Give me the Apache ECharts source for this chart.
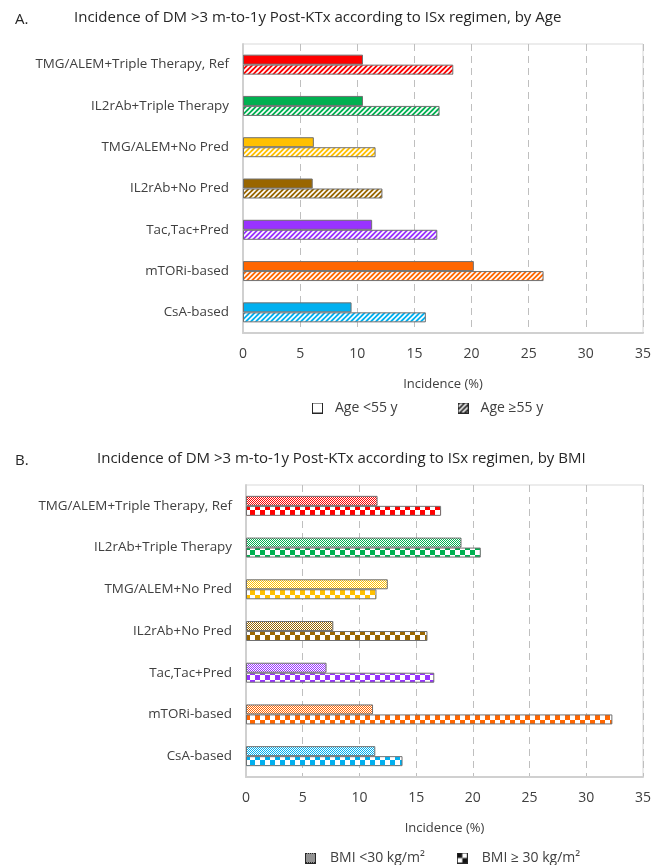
<!DOCTYPE html>
<html>
<head>
<meta charset="utf-8">
<script src="https://cdn.jsdelivr.net/npm/echarts@6/dist/echarts.min.js"></script>
<style>
  html, body { margin: 0; padding: 0; background: #fff; }
  #chart { width: 654px; height: 865px; }
</style>
</head>
<body>
<div id="chart"></div>
<script>
// categories, top to bottom
const categories = [
  'TMG/ALEM+Triple Therapy, Ref',
  'IL2rAb+Triple Therapy',
  'TMG/ALEM+No Pred',
  'IL2rAb+No Pred',
  'Tac,Tac+Pred',
  'mTORi-based',
  'CsA-based'
];
const catColors = ['#FF0000', '#00B050', '#FFC000', '#996600', '#9933FF', '#FF6600', '#00B0F0'];

// panel A: by age
const ageUnder55 = [10.5, 10.5, 6.2, 6.1, 11.3, 20.2, 9.5];
const ageOver55 = [18.4, 17.2, 11.6, 12.2, 17.0, 26.3, 16.0];
// panel B: by BMI
const bmiUnder30 = [11.6, 19.0, 12.5, 7.7, 7.1, 11.2, 11.4];
const bmiOver30 = [17.2, 20.7, 11.5, 16.0, 16.6, 32.3, 13.8];

const xTicks = [0, 35, 5]; // min, max, interval

const font = '"Open Sans", "Noto Sans", sans-serif';
const textColor = '#404040';

// 花纹 patterns
function makeCanvas(w, h) {
  const c = document.createElement('canvas');
  c.width = w;
  c.height = h;
  return c;
}
function hatch(color) {
  const s = 5;
  const c = makeCanvas(s, s);
  const ctx = c.getContext('2d');
  ctx.fillStyle = color;
  ctx.fillRect(0, 0, s, s);
  ctx.strokeStyle = '#fff';
  ctx.lineWidth = 1.6;
  ctx.beginPath();
  ctx.moveTo(0, s); ctx.lineTo(s, 0);
  ctx.moveTo(-1, 1); ctx.lineTo(1, -1);
  ctx.moveTo(s - 1, s + 1); ctx.lineTo(s + 1, s - 1);
  ctx.stroke();
  return c;
}
function fineChecker(color) {
  const c = makeCanvas(2, 2);
  const ctx = c.getContext('2d');
  ctx.fillStyle = '#fff';
  ctx.fillRect(0, 0, 2, 2);
  ctx.fillStyle = color;
  ctx.fillRect(0, 0, 1, 1);
  ctx.fillRect(1, 1, 1, 1);
  return c;
}
function bigChecker(color) {
  const s = 5;
  const c = makeCanvas(s * 2, s * 2);
  const ctx = c.getContext('2d');
  ctx.fillStyle = '#fff';
  ctx.fillRect(0, 0, s * 2, s * 2);
  ctx.fillStyle = color;
  ctx.fillRect(0, 0, s, s);
  ctx.fillRect(s, s, s, s);
  return c;
}
function pattern(canvas) {
  return { image: canvas, repeat: 'repeat' };
}
// legend icons as images
function iconImage(draw) {
  const c = makeCanvas(11, 11);
  const ctx = c.getContext('2d');
  draw(ctx);
  ctx.strokeStyle = '#262626';
  ctx.lineWidth = 1;
  ctx.strokeRect(0.5, 0.5, 10, 10);
  return 'image://' + c.toDataURL();
}
const iconWhite = iconImage(ctx => { ctx.fillStyle = '#fff'; ctx.fillRect(0, 0, 11, 11); });
const iconHatch = iconImage(ctx => { ctx.fillStyle = ctx.createPattern(hatch('#262626'), 'repeat'); ctx.fillRect(0, 0, 11, 11); });
const iconFine = iconImage(ctx => { ctx.fillStyle = ctx.createPattern(fineChecker('#262626'), 'repeat'); ctx.fillRect(0, 0, 11, 11); });
const iconBig = iconImage(ctx => {
  ctx.fillStyle = '#fff'; ctx.fillRect(0, 0, 11, 11);
  ctx.fillStyle = '#111'; ctx.fillRect(0, 0, 5.5, 5.5); ctx.fillRect(5.5, 5.5, 5.5, 5.5);
});

function barData(values, fill) {
  return values.map((v, i) => ({
    value: v,
    itemStyle: { color: fill(catColors[i]) }
  }));
}

function xAxisFor(gridIndex) {
  return {
    type: 'value',
    gridIndex,
    min: xTicks[0],
    max: xTicks[1],
    interval: xTicks[2],
    name: 'Incidence (%)',
    nameLocation: 'middle',
    nameGap: 45,
    nameTextStyle: { fontFamily: font, fontSize: 13, color: textColor },
    axisLine: { show: true, lineStyle: { color: '#D0D0D0', width: 2 } },
    axisTick: { show: false },
    axisLabel: { fontFamily: font, fontSize: 14, color: textColor, margin: 14 },
    splitLine: { show: true, lineStyle: { color: '#BFBFBF', type: [7, 5], width: 1 } }
  };
}
function yAxisFor(gridIndex) {
  return {
    type: 'category',
    gridIndex,
    inverse: true,
    data: categories,
    axisLine: { show: true, lineStyle: { color: '#D0D0D0', width: 2 } },
    axisTick: { show: false },
    axisLabel: { fontFamily: font, fontSize: 13.4, color: textColor, margin: 14 }
  };
}

const barBorder = { borderColor: '#707070', borderWidth: 1 };
const titleStyle = { fontFamily: font, fontSize: 15, fontWeight: 'normal', color: '#262626' };

const chart = echarts.init(document.getElementById('chart'));
chart.setOption({
  animation: false,
  backgroundColor: '#fff',
  title: [
    { text: 'A.', left: 10, top: 7, textStyle: titleStyle },
    { text: 'Incidence of DM >3 m-to-1y Post-KTx according to ISx regimen, by Age', left: 69, top: 5, textStyle: titleStyle },
    { text: 'B.', left: 10, top: 448, textStyle: titleStyle },
    { text: 'Incidence of DM >3 m-to-1y Post-KTx according to ISx regimen, by BMI', left: 92, top: 446, textStyle: titleStyle }
  ],
  legend: [
    {
      left: 307, top: 396, itemWidth: 11, itemHeight: 11, itemGap: 60,
      textStyle: { fontFamily: font, fontSize: 14, color: textColor, padding: [0, 0, 0, 7] },
      data: [
        { name: 'Age <55 y', icon: iconWhite },
        { name: 'Age ≥55 y', icon: iconHatch }
      ]
    },
    {
      left: 300, top: 846, itemWidth: 11, itemHeight: 11, itemGap: 32,
      textStyle: { fontFamily: font, fontSize: 14, color: textColor, padding: [0, 0, 0, 9] },
      data: [
        { name: 'BMI <30 kg/m²', icon: iconFine },
        { name: 'BMI ≥ 30 kg/m²', icon: iconBig }
      ]
    }
  ],
  grid: [
    { left: 243, top: 44, width: 401, height: 289, show: true, borderColor: '#D9D9D9', borderWidth: 1 },
    { left: 246, top: 485, width: 399, height: 292, show: true, borderColor: '#D9D9D9', borderWidth: 1 }
  ],
  xAxis: [xAxisFor(0), xAxisFor(1)],
  yAxis: [yAxisFor(0), yAxisFor(1)],
  series: [
    {
      name: 'Age <55 y', type: 'bar', xAxisIndex: 0, yAxisIndex: 0,
      barWidth: 10, barGap: '0%', itemStyle: barBorder,
      data: barData(ageUnder55, c => c)
    },
    {
      name: 'Age ≥55 y', type: 'bar', xAxisIndex: 0, yAxisIndex: 0,
      barWidth: 10, barGap: '0%', itemStyle: barBorder,
      data: barData(ageOver55, c => pattern(hatch(c)))
    },
    {
      name: 'BMI <30 kg/m²', type: 'bar', xAxisIndex: 1, yAxisIndex: 1,
      barWidth: 10, barGap: '0%', itemStyle: barBorder,
      data: barData(bmiUnder30, c => pattern(fineChecker(c)))
    },
    {
      name: 'BMI ≥ 30 kg/m²', type: 'bar', xAxisIndex: 1, yAxisIndex: 1,
      barWidth: 10, barGap: '0%', itemStyle: barBorder,
      data: barData(bmiOver30, c => pattern(bigChecker(c)))
    }
  ]
});
</script>
</body>
</html>
